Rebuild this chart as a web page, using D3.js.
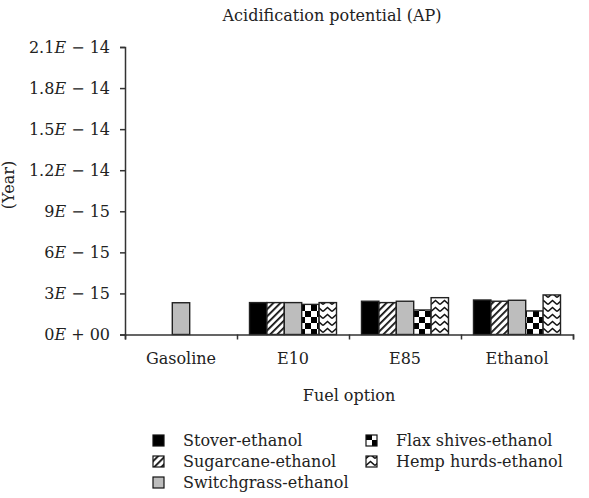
<!DOCTYPE html>
<html>
<head>
<meta charset="utf-8">
<script src="https://cdn.jsdelivr.net/npm/d3@7"></script>
<style>
  body { margin: 0; background: #fff; }
  text { font-family: "DejaVu Serif", "Liberation Serif", serif; fill: #222; }
</style>
</head>
<body>
<div id="chart"></div>
<script>
var svgWidth = 589;
var svgHeight = 498;

// data
var categories = ['Gasoline', 'E10', 'E85', 'Ethanol'];
var seriesNames = ['Stover-ethanol', 'Sugarcane-ethanol', 'Switchgrass-ethanol',
                   'Flax shives-ethanol', 'Hemp hurds-ethanol'];
var stoverValues      = [null, 2.33e-15, 2.43e-15, 2.52e-15];
var sugarcaneValues   = [null, 2.33e-15, 2.33e-15, 2.43e-15];
var switchgrassValues = [2.32e-15, 2.33e-15, 2.43e-15, 2.50e-15];
var flaxValues        = [null, 2.20e-15, 1.79e-15, 1.72e-15];
var hempValues        = [null, 2.33e-15, 2.69e-15, 2.89e-15];
var yTickValues = [0, 3e-15, 6e-15, 9e-15, 1.2e-14, 1.5e-14, 1.8e-14, 2.1e-14];
var yTickLabels = [['0', '+ 00'], ['3', '− 15'], ['6', '− 15'], ['9', '− 15'],
                   ['1.2', '− 14'], ['1.5', '− 14'], ['1.8', '− 14'], ['2.1', '− 14']];

var allSeries = [stoverValues, sugarcaneValues, switchgrassValues, flaxValues, hempValues];
var fills = ['#000', 'url(#hatch)', '#bdbdbd', 'url(#checker)', 'url(#zigzag)'];

var fontSize = 16;
var margin = { top: 47, right: 16, bottom: 164, left: 125 };
var width = svgWidth - margin.left - margin.right;
var height = 334.5 - margin.top;

var svg = d3.select('#chart').append('svg')
    .attr('width', svgWidth)
    .attr('height', svgHeight);

// patterns
var defs = svg.append('defs');
var hatch = defs.append('pattern')
    .attr('id', 'hatch').attr('patternUnits', 'userSpaceOnUse')
    .attr('width', 5).attr('height', 5)
    .attr('patternTransform', 'rotate(45)');
hatch.append('rect').attr('width', 5).attr('height', 5).attr('fill', '#fff');
hatch.append('rect').attr('width', 1.8).attr('height', 5).attr('fill', '#111');

var checker = defs.append('pattern')
    .attr('id', 'checker').attr('patternUnits', 'userSpaceOnUse')
    .attr('width', 12).attr('height', 12);
checker.append('rect').attr('width', 12).attr('height', 12).attr('fill', '#fff');
checker.append('rect').attr('width', 6).attr('height', 6).attr('fill', '#000');
checker.append('rect').attr('x', 6).attr('y', 6).attr('width', 6).attr('height', 6).attr('fill', '#000');

var zig = defs.append('pattern')
    .attr('id', 'zigzag').attr('patternUnits', 'userSpaceOnUse')
    .attr('width', 9).attr('height', 7);
zig.append('rect').attr('width', 9).attr('height', 7).attr('fill', '#fff');
zig.append('path').attr('d', 'M0,5.5 L4.5,1.5 L9,5.5').attr('fill', 'none')
    .attr('stroke', '#111').attr('stroke-width', 1.6);

var chartGroup = svg.append('g')
    .attr('transform', `translate(${margin.left}, ${margin.top})`);

var x0 = d3.scaleBand().domain(categories).range([0, width]);
var x1 = d3.scaleBand().domain(d3.range(seriesNames.length))
    .range([12.5, x0.bandwidth() - 12.5]);
var y = d3.scaleLinear().domain([0, 2.1e-14]).range([height, 0]);

// bars
allSeries.forEach(function(values, s) {
    chartGroup.selectAll('.bar-' + s)
        .data(categories.map((c, i) => ({ cat: c, v: values[i] })).filter(d => d.v != null))
        .enter()
        .append('rect')
        .attr('x', d => x0(d.cat) + x1(s))
        .attr('y', d => y(d.v))
        .attr('width', x1.bandwidth())
        .attr('height', d => height - y(d.v))
        .attr('fill', fills[s])
        .attr('stroke', '#222')
        .attr('stroke-width', 1.4);
});

// y axis
var leftAxis = d3.axisLeft(y).tickValues(yTickValues).tickSize(5).tickFormat('');
var yAxis = chartGroup.append('g').call(leftAxis);
yAxis.select('.domain').attr('stroke', '#333').attr('stroke-width', 1.5);
yAxis.selectAll('.tick line').attr('stroke', '#333').attr('stroke-width', 1.5);

yTickValues.forEach(function(v, i) {
    var t = chartGroup.append('text')
        .attr('x', -15)
        .attr('y', y(v) + 5.5)
        .attr('text-anchor', 'end')
        .attr('font-size', fontSize);
    t.append('tspan').text(yTickLabels[i][0]);
    t.append('tspan').attr('font-style', 'italic').text('E');
    t.append('tspan').text(' ' + yTickLabels[i][1]);
});

// x axis
var xTickScale = d3.scaleLinear().domain([0, categories.length]).range([0, width]);
var bottomAxis = d3.axisBottom(xTickScale).ticks(categories.length).tickSize(5).tickFormat('');
var xAxis = chartGroup.append('g')
    .attr('transform', `translate(0, ${height})`)
    .call(bottomAxis);
xAxis.select('.domain').attr('stroke', '#333').attr('stroke-width', 1.5);
xAxis.selectAll('.tick line').attr('stroke', '#333').attr('stroke-width', 1.5);

chartGroup.selectAll('.cat-label')
    .data(categories)
    .enter()
    .append('text')
    .attr('x', d => x0(d) + x0.bandwidth() / 2)
    .attr('y', height + 29)
    .attr('text-anchor', 'middle')
    .attr('font-size', fontSize)
    .text(d => d);

// titles
svg.append('text')
    .attr('x', 332).attr('y', 21)
    .attr('text-anchor', 'middle').attr('font-size', fontSize)
    .text('Acidification potential (AP)');

svg.append('text')
    .attr('x', margin.left + width / 2).attr('y', margin.top + height + 66)
    .attr('text-anchor', 'middle').attr('font-size', fontSize)
    .text('Fuel option');

svg.append('text')
    .attr('transform', 'translate(14, 185) rotate(-90)')
    .attr('text-anchor', 'middle').attr('font-size', fontSize)
    .text('(Year)');

// legend
var legendPos = [[153, 446], [153, 467], [153, 488], [366, 446], [366, 467]];
var legend = svg.selectAll('.legend')
    .data(seriesNames)
    .enter()
    .append('g')
    .attr('transform', (d, i) => `translate(${legendPos[i][0]}, ${legendPos[i][1]})`);
legend.append('rect')
    .attr('x', 0).attr('y', -11)
    .attr('width', 11).attr('height', 11)
    .attr('fill', (d, i) => fills[i])
    .attr('stroke', '#111').attr('stroke-width', 1.2);
legend.append('text')
    .attr('x', 30).attr('y', 0)
    .attr('font-size', fontSize)
    .text(d => d);
</script>
</body>
</html>
